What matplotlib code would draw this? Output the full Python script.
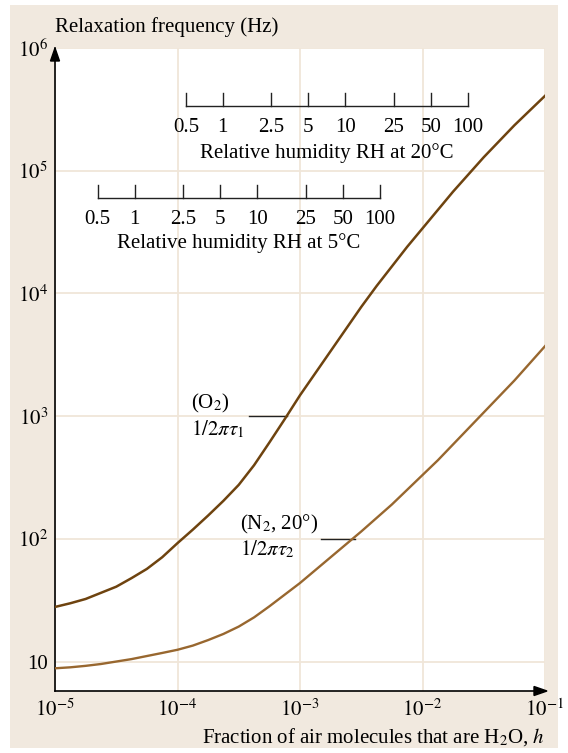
import numpy as np
import matplotlib
matplotlib.use("Agg")
import matplotlib.pyplot as plt
from matplotlib.patches import Rectangle, Polygon
import matplotlib.transforms as mtransforms

plt.rcParams['font.family'] = ['Liberation Serif', 'DejaVu Serif']
plt.rcParams['mathtext.fontset'] = 'stix'

# ---- data (log10 values) ----
log_h = [-5.0, -4.875, -4.75, -4.625, -4.5, -4.375, -4.25, -4.125, -4.0,
         -3.875, -3.75, -3.625, -3.5, -3.375, -3.25, -3.125, -3.0,
         -2.875, -2.75, -2.625, -2.5, -2.375, -2.25, -2.125, -2.0,
         -1.875, -1.75, -1.625, -1.5, -1.375, -1.25, -1.125, -1.0]
log_f_o2 = [1.445, 1.475, 1.51, 1.56, 1.61, 1.68, 1.755, 1.85, 1.965,
            2.075, 2.19, 2.31, 2.44, 2.60, 2.785, 2.975, 3.17,
            3.35, 3.53, 3.71, 3.89, 4.06, 4.22, 4.38, 4.53,
            4.68, 4.83, 4.97, 5.11, 5.24, 5.37, 5.49, 5.61]
log_f_n2 = [0.945, 0.953, 0.965, 0.98, 1.0, 1.02, 1.045, 1.07, 1.096,
            1.13, 1.175, 1.225, 1.285, 1.36, 1.45, 1.545, 1.64,
            1.745, 1.85, 1.955, 2.06, 2.17, 2.28, 2.40, 2.52,
            2.64, 2.77, 2.90, 3.03, 3.16, 3.29, 3.43, 3.57]

rh_ticks = [0.5, 1, 2.5, 5, 10, 25, 50, 100]
rh_labels = ['0.5', '1', '2.5', '5', '10', '25', '50', '100']
h_sat_20C = 0.0234   # h at 100 % RH, 20 degC scale (as drawn)
h_sat_5C = 0.00447   # h at 100 % RH, 5 degC scale (as drawn)

x_ticks = [1e-5, 1e-4, 1e-3, 1e-2, 1e-1]
x_ticklabels = ['$10^{-5}$', '$10^{-4}$', '$10^{-3}$', '$10^{-2}$', '$10^{-1}$']
y_ticks = [1e1, 1e2, 1e3, 1e4, 1e5, 1e6]
y_ticklabels = ['10', '$10^{2}$', '$10^{3}$', '$10^{4}$', '$10^{5}$', '$10^{6}$']

h = 10 ** np.array(log_h)
f_o2 = 10 ** np.array(log_f_o2)
f_n2 = 10 ** np.array(log_f_n2)

FS = 15
W, H = 568, 753
fig = plt.figure(figsize=(W / 100, H / 100), dpi=100, facecolor='white')
beige = '#f1e9df'
fig.patches.append(Rectangle((10 / W, 5 / H), 548 / W, 743 / H,
                             transform=fig.transFigure, facecolor=beige,
                             edgecolor='none', zorder=-10))

ax = fig.add_axes([55 / W, (H - 691) / H, 490 / W, 643 / H])
ax.set_facecolor('white')
ax.set_xscale('log')
ax.set_yscale('log')
ax.set_xlim(1e-5, 1e-1)
ax.set_ylim(10 ** 0.76, 1e6)

grid_c = '#f0e6d9'
ax.grid(True, which='major', color=grid_c, linewidth=1.3)
ax.grid(False, which='minor')
ax.set_axisbelow(True)
ax.minorticks_off()

for s in ['top', 'right']:
    ax.spines[s].set_visible(False)
for s in ['left', 'bottom']:
    ax.spines[s].set_color('black')
    ax.spines[s].set_linewidth(1.2)

ax.set_xticks(x_ticks)
ax.set_xticklabels(x_ticklabels)
ax.set_yticks(y_ticks)
ax.set_yticklabels(y_ticklabels)
ax.tick_params(axis='both', length=0, labelsize=FS)
ax.tick_params(axis='x', pad=6)
ax.tick_params(axis='y', pad=5)

# curves
ax.plot(h, f_o2, color='#6e430f', lw=1.8, zorder=3, solid_joinstyle='round')
ax.plot(h, f_n2, color='#98672f', lw=1.7, zorder=3, solid_joinstyle='round')

# axis arrows
ax.add_patch(Polygon([[0, 1.0], [-4.5 / 490, 1 - 13 / 643], [4.5 / 490, 1 - 13 / 643]],
                     closed=True, transform=ax.transAxes, color='black',
                     clip_on=False, zorder=5))
ax.add_patch(Polygon([[1.0 + 2 / 490, 0], [1 - 11 / 490, 4.5 / 643], [1 - 11 / 490, -4.5 / 643]],
                     closed=True, transform=ax.transAxes, color='black',
                     clip_on=False, zorder=5))

# axis titles
fig.text(55 / W, (H - 27) / H, 'Relaxation frequency (Hz)', fontsize=FS,
         ha='left', va='center')
fig.text(545 / W, (H - 737) / H, 'Fraction of air molecules that are H$_2$O, $h$',
         fontsize=FS, ha='right', va='center')

# relative humidity scales
trans = mtransforms.blended_transform_factory(ax.transData, ax.transAxes)


def rh_scale(h_sat, y_line, y_lab, y_title, title):
    hs = [r / 100 * h_sat for r in rh_ticks]
    ax.plot([hs[0], hs[-1]], [y_line, y_line], color='#222222', lw=1.0,
            transform=trans, clip_on=False, zorder=4)
    for hv, lab in zip(hs, rh_labels):
        ax.plot([hv, hv], [y_line, y_line + 13 / 643], color='#222222', lw=1.0,
                transform=trans, clip_on=False, zorder=4)
        ax.text(hv, y_lab, lab, transform=trans, ha='center', va='center',
                fontsize=FS)
    ax.text(np.sqrt(hs[0] * hs[-1]), y_title, title, transform=trans,
            ha='center', va='center', fontsize=FS)


rh_scale(h_sat_20C, 0.910, 0.876, 0.837, 'Relative humidity RH at 20°C')
rh_scale(h_sat_5C, 0.767, 0.734, 0.696, 'Relative humidity RH at 5°C')

# curve labels with leader lines
ax.text(10 ** -3.89, 10 ** 3.10, '(O$_2$)', fontsize=FS, ha='left', va='center')
ax.text(10 ** -3.89, 10 ** 2.89, r'$1/2\pi\tau_1$', fontsize=FS, ha='left', va='center')
ax.plot([10 ** -3.42, 10 ** -3.11], [10 ** 3.0, 10 ** 3.0], color='#222222', lw=1.0)

ax.text(10 ** -3.49, 10 ** 2.12, '(N$_2$, 20°)', fontsize=FS, ha='left', va='center')
ax.text(10 ** -3.49, 10 ** 1.91, r'$1/2\pi\tau_2$', fontsize=FS, ha='left', va='center')
ax.plot([10 ** -2.83, 10 ** -2.55], [10 ** 2.0, 10 ** 2.0], color='#222222', lw=1.0)

fig.savefig('out.png', dpi=100, facecolor='white')
